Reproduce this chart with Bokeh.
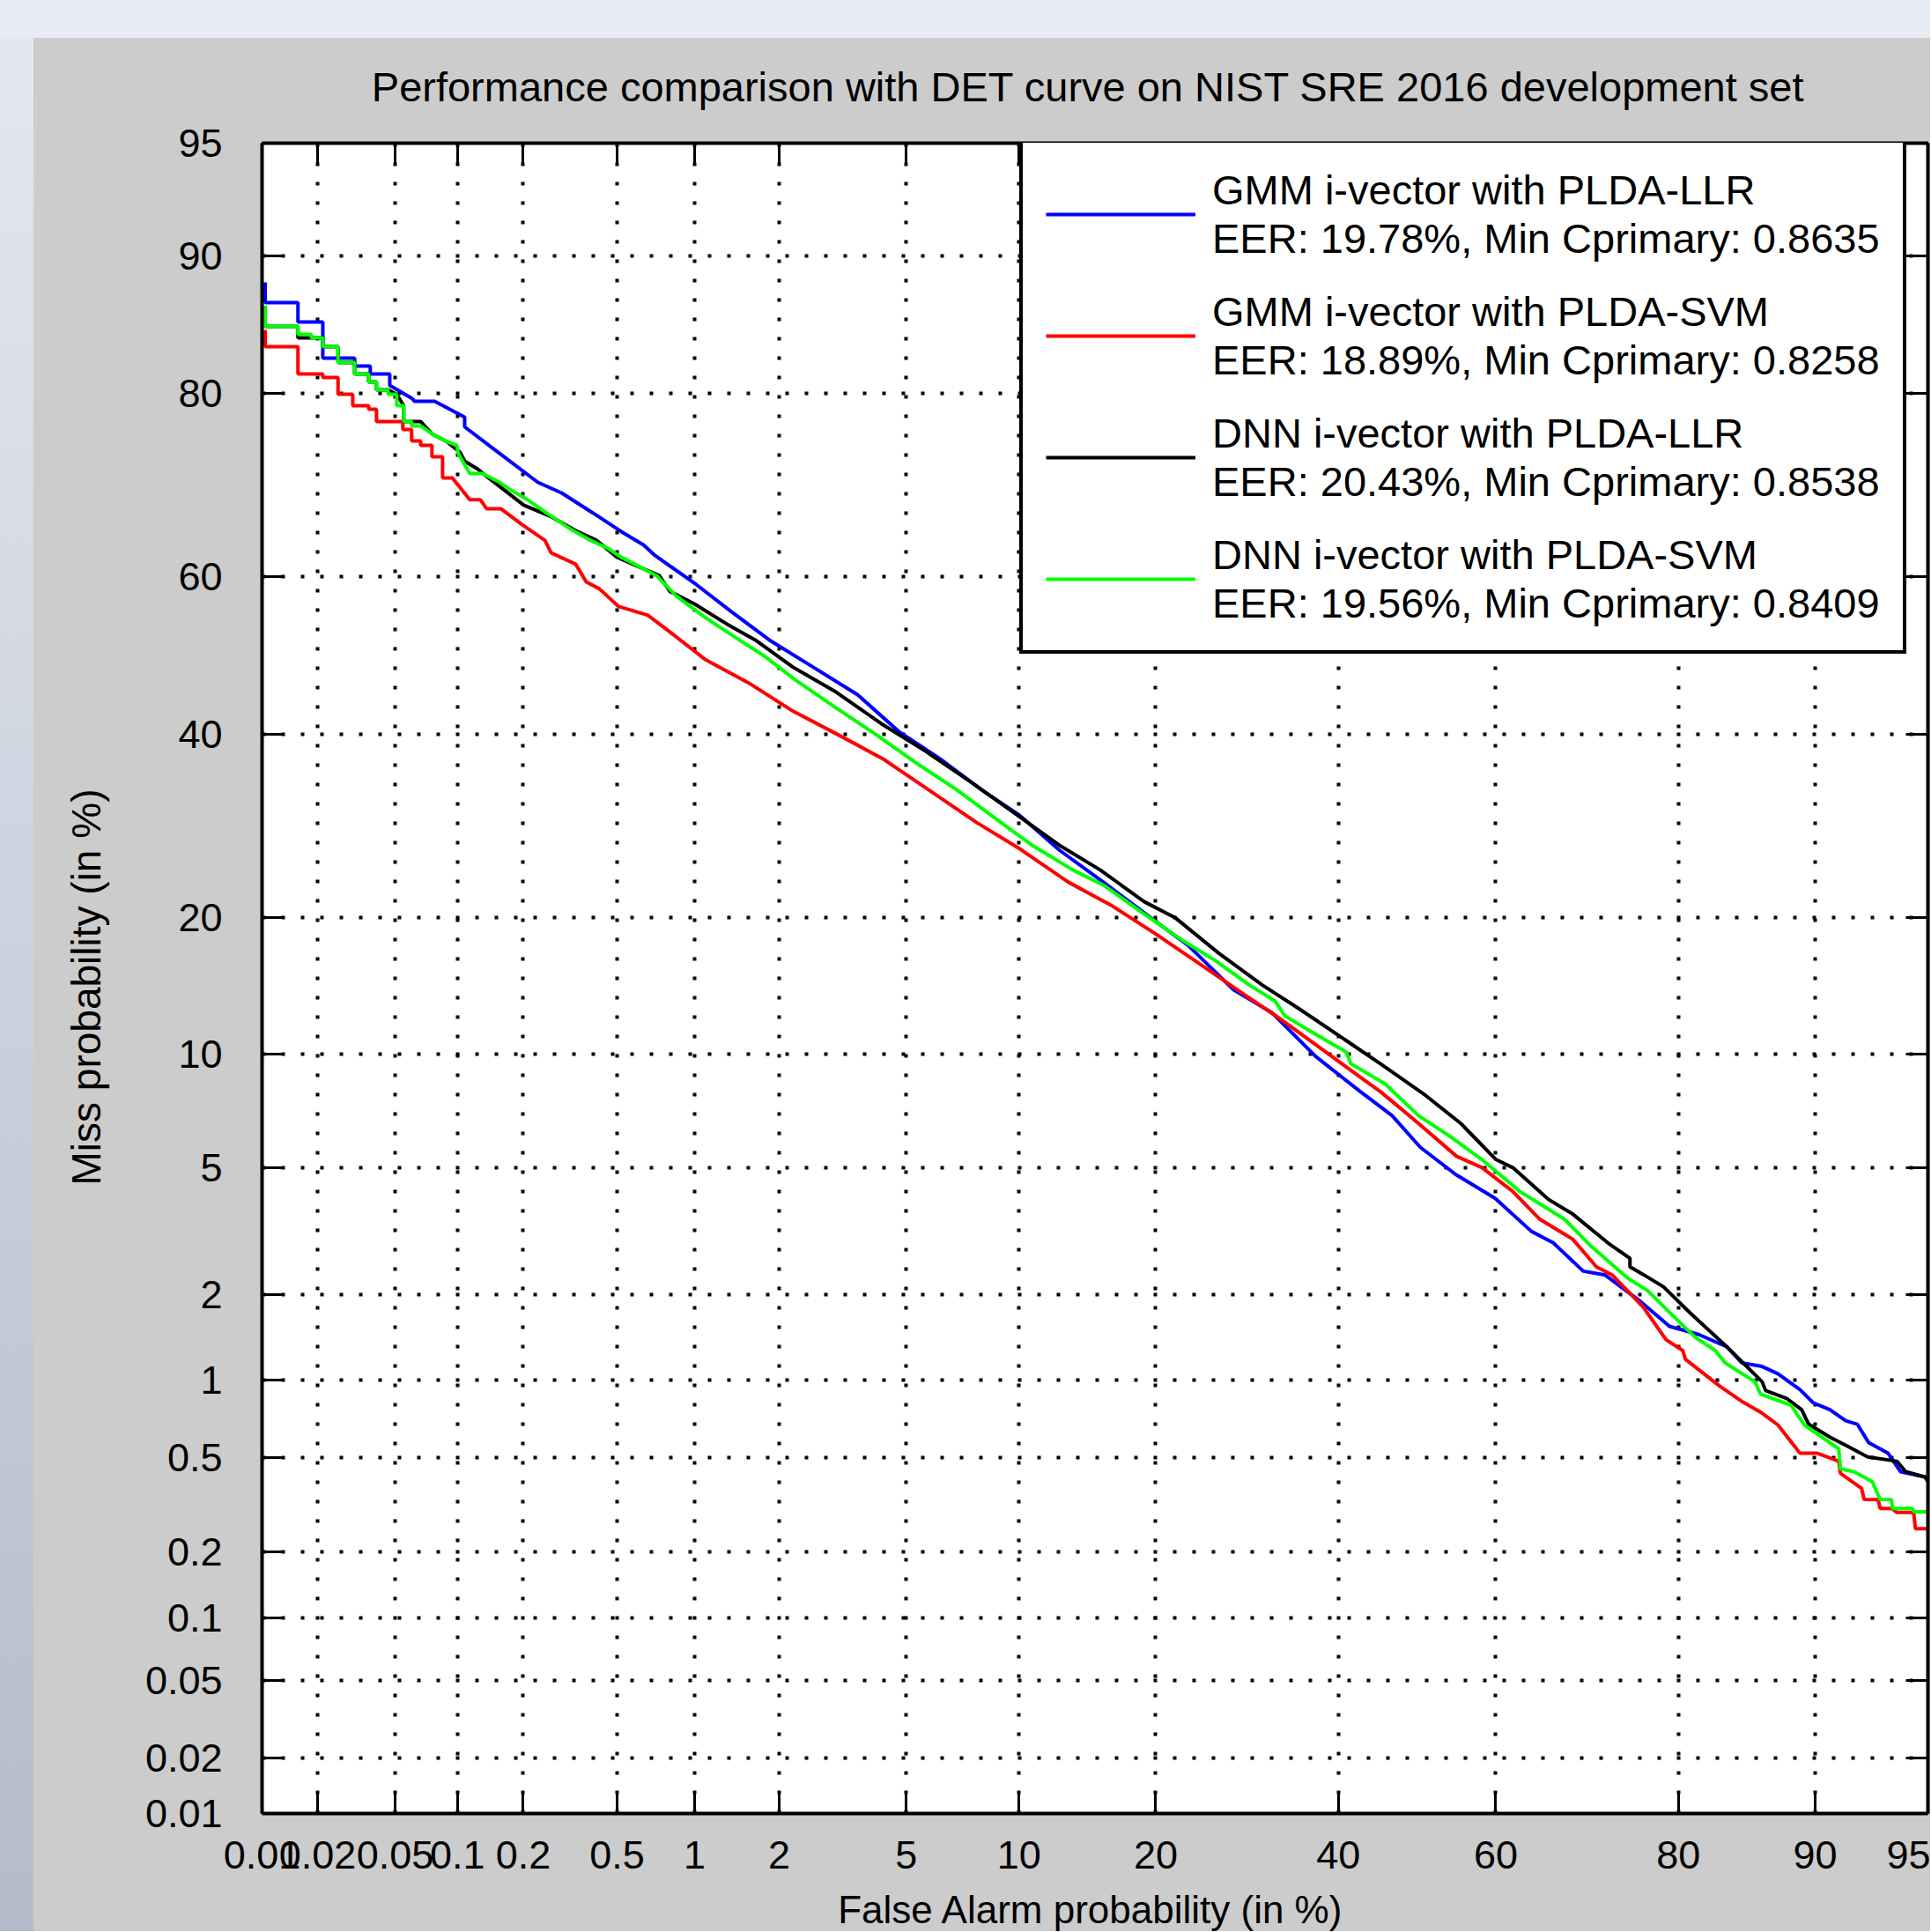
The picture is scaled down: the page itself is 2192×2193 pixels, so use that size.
import math
from statistics import NormalDist
from bokeh.plotting import figure
from bokeh.models import (Range1d, FixedTicker, CustomJSTickFormatter, LinearAxis,
                          Grid, Legend, LegendItem, Label, Div)
from bokeh.layouts import column, row
from bokeh.embed import file_html
from bokeh.resources import INLINE

# ---------------- chart values ----------------
tick_pct = [0.01, 0.02, 0.05, 0.1, 0.2, 0.5, 1, 2, 5, 10, 20, 40, 60, 80, 90, 95]
tick_labels = ["0.01", "0.02", "0.05", "0.1", "0.2", "0.5", "1", "2", "5",
               "10", "20", "40", "60", "80", "90", "95"]

title_text = "Performance comparison with DET curve on NIST SRE 2016 development set"
x_label_text = "False Alarm probability (in %)"
y_label_text = "Miss probability (in %)"

series_labels = [
    "GMM i-vector with PLDA-LLR\nEER: 19.78%, Min Cprimary: 0.8635",
    "GMM i-vector with PLDA-SVM\nEER: 18.89%, Min Cprimary: 0.8258",
    "DNN i-vector with PLDA-LLR\nEER: 20.43%, Min Cprimary: 0.8538",
    "DNN i-vector with PLDA-SVM\nEER: 19.56%, Min Cprimary: 0.8409",
]
series_colors = ["#0000ff", "#ff0000", "#000000", "#00ff00"]

# False alarm / miss probabilities (in %) along each DET curve
gmm_llr_pfa = [0.0104, 0.0104, 0.0157, 0.0157, 0.0213, 0.0213, 0.0312, 0.0312, 0.0375, 0.0375,
               0.047, 0.047, 0.0608, 0.0622, 0.078, 0.1082, 0.1082, 0.1543, 0.232, 0.2937,
               0.399, 0.5199, 0.637, 0.7061, 1.014, 1.363, 1.85, 2.594, 3.579, 4.759,
               6.23, 8.09, 10.03, 12.49, 15.63, 19.52, 23.05, 27.74, 31.97, 37.2,
               42.65, 46.8, 50.41, 54.93, 59.93, 64.35, 66.95, 70.37, 72.77, 76.24,
               79.18, 81.77, 84.07, 85.21, 86.67, 87.74, 89.12, 89.89, 90.81, 91.62,
               92.18, 92.7, 93.53, 94.02, 95.0]
gmm_llr_pmiss = [88.45, 87.14, 87.14, 85.78, 85.78, 83.01, 83.01, 82.36, 82.36, 81.69,
                 81.69, 80.7, 79.52, 79.27, 79.27, 77.79, 76.85, 74.28, 71.08, 69.91,
                 67.61, 65.45, 63.87, 62.59, 59.0, 55.57, 51.97, 48.48, 44.99, 40.34,
                 36.98, 33.21, 30.38, 26.56, 23.32, 20.0, 17.58, 14.14, 12.58, 9.89,
                 8.09, 6.97, 5.71, 4.78, 4.06, 3.22, 2.96, 2.4, 2.33, 1.92,
                 1.56, 1.46, 1.32, 1.155, 1.12, 1.053, 0.919, 0.82, 0.771, 0.699,
                 0.678, 0.574, 0.52, 0.438, 0.414]

gmm_svm_pfa = [0.0104, 0.0104, 0.0157, 0.0157, 0.0213, 0.0213, 0.0256, 0.0256, 0.0305, 0.0305,
               0.0368, 0.0368, 0.0403, 0.0403, 0.0546, 0.0546, 0.0603, 0.0603, 0.0667, 0.0667,
               0.0757, 0.0757, 0.0851, 0.0851, 0.0947, 0.1144, 0.1281, 0.1368, 0.1587, 0.1975,
               0.2491, 0.2648, 0.3373, 0.3734, 0.4232, 0.5073, 0.663, 0.8073, 1.093, 1.573,
               2.226, 3.13, 4.277, 5.83, 7.79, 10.1, 13.08, 16.32, 19.91, 23.81,
               28.71, 33.2, 38.48, 42.54, 45.34, 50.19, 55.04, 58.28, 62.1, 65.3,
               69.19, 71.82, 73.52, 76.67, 78.86, 80.39, 80.62, 83.51, 85.28, 86.67,
               87.74, 89.12, 90.13, 91.27, 91.36, 92.38, 92.5, 93.12, 93.2, 93.67,
               93.88, 94.51, 94.57, 95.0]
gmm_svm_pmiss = [85.2, 83.92, 83.92, 81.69, 81.69, 81.39, 81.39, 79.92, 79.92, 78.87,
                 78.87, 78.54, 78.54, 77.37, 77.37, 76.59, 76.59, 75.45, 75.45, 75.0,
                 75.0, 73.82, 73.82, 71.57, 71.57, 69.13, 69.13, 68.12, 68.12, 66.28,
                 64.4, 62.91, 61.52, 59.33, 58.46, 56.24, 55.12, 52.99, 49.49, 46.45,
                 42.88, 39.9, 36.98, 33.21, 29.6, 26.65, 23.32, 21.05, 18.61, 16.3,
                 13.89, 12.07, 10.13, 8.84, 8.05, 6.64, 5.39, 5.0, 4.26, 3.52,
                 3.04, 2.48, 2.33, 1.82, 1.4, 1.28, 1.19, 0.947, 0.826, 0.748,
                 0.673, 0.52, 0.52, 0.483, 0.431, 0.374, 0.336, 0.335, 0.308, 0.308,
                 0.296, 0.296, 0.252, 0.252]

dnn_llr_pfa = [0.0104, 0.0104, 0.0157, 0.0157, 0.0213, 0.0213, 0.0256, 0.0256, 0.0312, 0.0312,
               0.0368, 0.0368, 0.0403, 0.0403, 0.0461, 0.0509, 0.0551, 0.0551, 0.0667, 0.0757,
               0.0894, 0.1031, 0.1082, 0.1246, 0.1378, 0.2011, 0.2648, 0.3433, 0.4126, 0.4991,
               0.5781, 0.7342, 0.8073, 0.9986, 1.314, 1.654, 2.226, 3.034, 4.226, 5.66,
               7.58, 9.84, 12.55, 15.37, 18.96, 21.77, 26.17, 30.95, 35.07, 40.99,
               45.45, 51.1, 55.6, 60.04, 62.1, 66.34, 69.19, 73.05, 75.35, 75.35,
               76.67, 78.62, 81.01, 84.07, 86.67, 86.91, 88.3, 89.22, 89.63, 90.81,
               91.62, 92.66, 93.88, 94.22, 94.9, 95.0]
dnn_llr_pmiss = [86.9, 85.46, 85.46, 84.6, 84.6, 83.92, 83.92, 82.65, 82.65, 81.69,
                 81.69, 81.01, 81.01, 80.31, 80.31, 79.92, 78.87, 77.37, 77.37, 76.16,
                 75.36, 74.28, 73.36, 72.51, 71.66, 68.52, 67.2, 65.45, 64.4, 62.38,
                 61.52, 60.1, 58.13, 56.57, 54.0, 51.97, 48.48, 45.44, 41.32, 37.95,
                 34.14, 30.48, 27.02, 24.55, 21.46, 20.0, 16.93, 14.47, 12.87, 10.8,
                 9.44, 7.88, 6.64, 5.27, 5.0, 4.04, 3.64, 2.96, 2.64, 2.48,
                 2.34, 2.13, 1.74, 1.32, 0.984, 0.912, 0.852, 0.771, 0.678, 0.603,
                 0.56, 0.503, 0.483, 0.438, 0.417, 0.399]

dnn_svm_pfa = [0.0104, 0.0104, 0.0157, 0.0157, 0.0185, 0.0185, 0.0213, 0.0213, 0.0256, 0.0256,
               0.0312, 0.0312, 0.0368, 0.0368, 0.0403, 0.0403, 0.0461, 0.0461, 0.0509, 0.0509,
               0.0551, 0.0551, 0.0603, 0.0603, 0.0667, 0.0757, 0.0894, 0.0994, 0.1012, 0.1144,
               0.1306, 0.1543, 0.174, 0.2122, 0.2536, 0.3201, 0.3891, 0.4598, 0.5113, 0.717,
               0.852, 1.077, 1.314, 1.775, 2.257, 3.034, 4.096, 5.35, 6.96, 9.0,
               10.83, 13.37, 15.69, 18.96, 22.62, 25.9, 29.49, 32.38, 33.51, 36.88,
               40.99, 41.55, 45.9, 50.19, 54.14, 58.28, 62.96, 68.18, 71.34, 75.17,
               77.1, 79.35, 81.54, 83.16, 83.93, 86.17, 86.55, 88.58, 89.38, 91.27,
               91.36, 92.05, 92.86, 93.2, 93.67, 93.71, 94.44, 94.54, 95.0]
dnn_svm_pmiss = [86.9, 85.46, 85.46, 84.87, 84.87, 84.6, 84.6, 83.92, 83.92, 82.65,
                 82.65, 81.69, 81.69, 81.01, 81.01, 80.31, 80.31, 79.92, 79.92, 78.87,
                 78.87, 77.37, 77.37, 76.94, 76.94, 76.16, 75.36, 75.0, 74.09, 72.04,
                 72.04, 71.18, 70.31, 69.03, 67.61, 65.76, 64.4, 63.44, 62.49, 60.1,
                 57.58, 55.01, 52.99, 49.94, 46.9, 43.43, 39.9, 36.46, 33.21, 29.6,
                 27.02, 24.55, 22.98, 20.33, 17.94, 16.3, 14.47, 13.35, 12.35, 11.28,
                 10.13, 9.49, 8.44, 6.97, 6.14, 5.27, 4.26, 3.52, 2.87, 2.27,
                 2.07, 1.72, 1.42, 1.28, 1.155, 0.984, 0.885, 0.801, 0.673, 0.542,
                 0.45, 0.437, 0.399, 0.336, 0.335, 0.308, 0.308, 0.298, 0.298]

# ---------------- probit (normal deviate) scale ----------------
nd = NormalDist()


def dev(values):
    return [nd.inv_cdf(v / 100.0) for v in values]


tick_dev = dev(tick_pct)
lo, hi = tick_dev[0], tick_dev[-1]
FONT = "Liberation Sans"
PANEL = "#cccccc"


def text_panel(width, height):
    f = figure(width=width, height=height, x_range=Range1d(0, 1), y_range=Range1d(0, 1),
               x_axis_location=None, y_axis_location=None,
               output_backend="svg", toolbar_location=None, min_border=0,
               styles={"background-color": PANEL})
    f.background_fill_color = PANEL
    f.border_fill_color = PANEL
    f.outline_line_color = None
    f.center = [c for c in f.center if not isinstance(c, Grid)]
    return f


# ---- main DET plot ----
p = figure(width=2051, height=2013, x_range=Range1d(lo, hi), y_range=Range1d(lo, hi),
           x_axis_location=None, y_axis_location=None,
           output_backend="svg", toolbar_location=None,
           styles={"background-color": PANEL})
p.center = [c for c in p.center if not isinstance(c, Grid)]
p.min_border_left = 157
p.min_border_right = 3
p.min_border_top = 34
p.min_border_bottom = 83
p.background_fill_color = "#ffffff"
p.border_fill_color = PANEL
p.outline_line_color = None

ticker = FixedTicker(ticks=tick_dev, minor_ticks=[])
fmt = CustomJSTickFormatter(args=dict(tv=tick_dev, tl=tick_labels), code="""
let b = 0;
for (let j = 0; j < tv.length; j++) {
  if (Math.abs(tv[j] - tick) < Math.abs(tv[b] - tick)) { b = j; }
}
return tl[b];
""")
blank = CustomJSTickFormatter(code="return '';")


def styled_axis(labelled, standoff=0):
    ax = LinearAxis(ticker=ticker, formatter=fmt if labelled else blank)
    ax.axis_line_color = "black"
    ax.axis_line_width = 4
    ax.major_tick_in = 25
    ax.major_tick_out = 0
    ax.major_tick_line_color = "black"
    ax.major_tick_line_width = 3
    ax.minor_tick_line_color = None
    if labelled:
        ax.major_label_text_font = FONT
        ax.major_label_text_font_size = "45px"
        ax.major_label_text_color = "black"
        ax.major_label_standoff = standoff
    else:
        ax.major_label_text_font_size = "0px"
        ax.major_label_standoff = 0
    return ax


p.add_layout(styled_axis(True, 31), "below")
p.add_layout(styled_axis(True, 45), "left")
p.add_layout(styled_axis(False), "above")
p.add_layout(styled_axis(False), "right")

for dim in (0, 1):
    p.add_layout(Grid(dimension=dim, ticker=ticker, grid_line_color="black",
                      grid_line_width=4, grid_line_dash="4 18"))

curves = [(gmm_llr_pfa, gmm_llr_pmiss), (gmm_svm_pfa, gmm_svm_pmiss),
          (dnn_llr_pfa, dnn_llr_pmiss), (dnn_svm_pfa, dnn_svm_pmiss)]
renderers = []
for (pfa, pm), color in zip(curves, series_colors):
    renderers.append(p.line(dev(pfa), dev(pm), line_color=color, line_width=4))

legend = Legend(items=[LegendItem(label=lab, renderers=[r]) for lab, r in zip(series_labels, renderers)],
                location=(860, 1316), orientation="vertical")
legend.margin = 0
legend.padding = 26
legend.spacing = 28
legend.glyph_width = 170
legend.glyph_height = 40
legend.label_standoff = 19
legend.label_text_font = FONT
legend.label_text_font_size = "47px"
legend.label_text_line_height = 1.2
legend.label_text_color = "black"
legend.border_line_color = "black"
legend.border_line_alpha = 1.0
legend.border_line_width = 4
legend.background_fill_color = "white"
legend.background_fill_alpha = 1.0
p.add_layout(legend)

# ---- text panels around the plot ----
title_fig = text_panel(2153, 85)
title_fig.add_layout(Label(x=1197, y=30, x_units="screen", y_units="screen", text=title_text,
                           text_font=FONT, text_font_size="47px", text_color="black",
                           text_align="center", text_baseline="middle"))

# this panel shares the plot frame's vertical extent (frames are aligned in a row)
ylab_fig = text_panel(102, 2013)
ylab_fig.add_layout(Label(x=59, y=938, x_units="screen", y_units="screen", text=y_label_text,
                          angle=math.pi / 2, text_font=FONT, text_font_size="46px",
                          text_color="black", text_align="center", text_baseline="middle"))

xlab_fig = text_panel(2153, 51)
xlab_fig.add_layout(Label(x=1200, y=25.5, x_units="screen", y_units="screen", text=x_label_text,
                          text_font=FONT, text_font_size="44px", text_color="black",
                          text_align="center", text_baseline="middle"))

top_strip = Div(text="", width=2191, height=43, margin=0,
                styles={"background-color": "#e7ebf3"})
left_strip = Div(text="", width=38, height=2149, margin=0,
                 styles={"background": "linear-gradient(180deg, #e3e7ef 0%, #b3bccb 100%)"})

body = column(title_fig, row(ylab_fig, p, spacing=0), xlab_fig, spacing=0,
              styles={"background-color": PANEL})
layout = column(top_strip, row(left_strip, body, spacing=0), spacing=0)

open("out.html", "w").write(file_html(layout, INLINE))
